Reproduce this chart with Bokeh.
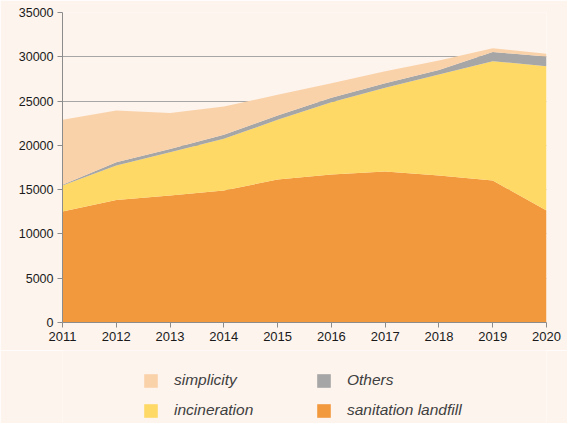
from bokeh.plotting import figure
from bokeh.layouts import column
from bokeh.models import ColumnDataSource, Legend, LegendItem, FixedTicker, Range1d
from bokeh.embed import file_html
from bokeh.resources import INLINE

years = [2011, 2012, 2013, 2014, 2015, 2016, 2017, 2018, 2019, 2020]
landfill = [12530, 13830, 14340, 14900, 16150, 16710, 17050, 16600, 16030, 12650]
incineration = [2940, 3900, 4890, 5840, 6730, 8160, 9440, 11400, 13470, 16290]
others = [90, 375, 370, 465, 490, 500, 530, 520, 1030, 1100]
simplicity = [7330, 5835, 4045, 3190, 2330, 1650, 1350, 1060, 440, 300]

series_keys = ["landfill", "incineration", "others", "simplicity"]
series_labels = ["sanitation landfill", "incineration", "Others", "simplicity"]
series_colors = ["#F2993E", "#FED966", "#A6A6A6", "#FAD2AA"]
y_ticks = [0, 5000, 10000, 15000, 20000, 25000, 30000, 35000]

BG = "#FDF4EE"

source = ColumnDataSource(dict(year=years, landfill=landfill, incineration=incineration,
                               others=others, simplicity=simplicity))

# ---- main chart ----
p = figure(width=567, height=350, output_backend="svg", toolbar_location=None,
           min_border_left=62, min_border_right=21, min_border_top=12, min_border_bottom=28,
           x_range=Range1d(2011, 2020), y_range=Range1d(0, 35000))
p.background_fill_color = BG
p.border_fill_color = BG
p.outline_line_color = None

p.varea_stack(series_keys, x="year", color=series_colors, source=source)

p.xgrid.grid_line_color = None
p.ygrid.grid_line_color = "#A6A6A6"
p.ygrid.grid_line_width = 1
p.ygrid.ticker = FixedTicker(ticks=y_ticks)

p.yaxis.ticker = FixedTicker(ticks=y_ticks)
p.xaxis.ticker = FixedTicker(ticks=years)
for ax in (p.xaxis, p.yaxis):
    ax.axis_line_color = "#8C8C8C"
    ax.major_tick_line_color = "#8C8C8C"
    ax.major_tick_in = 0
    ax.major_tick_out = 5
    ax.minor_tick_line_color = None
    ax.major_label_text_font = "Liberation Sans"
    ax.major_label_text_color = "#1A1A1A"
p.xaxis.major_label_text_font_size = "13px"
p.yaxis.major_label_text_font_size = "12.5px"
p.xaxis.major_label_standoff = 4
p.yaxis.major_label_standoff = 4
p.yaxis.formatter.use_scientific = False

# ---- legend strip (its stacked areas sit outside its own view) ----
lg = figure(width=567, height=73, output_backend="svg", toolbar_location=None,
            min_border=0, x_axis_type=None, y_axis_type=None,
            x_range=Range1d(2011, 2020), y_range=Range1d(-2, -1))
lg.background_fill_color = BG
lg.border_fill_color = BG
lg.outline_line_color = None
lg_renderers = lg.varea_stack(series_keys, x="year", color=series_colors, source=source)

order = [3, 2, 1, 0]
items = [LegendItem(label=series_labels[i], renderers=[lg_renderers[i]]) for i in order]
legend = Legend(items=items, ncols=2, location=(80, 4), orientation="horizontal")
legend.background_fill_alpha = 0
legend.border_line_color = None
legend.label_text_font = "Liberation Sans"
legend.label_text_font_style = "italic"
legend.label_text_font_size = "15.5px"
legend.label_text_color = "#404040"
legend.glyph_width = 17
legend.glyph_height = 17
legend.label_standoff = 15
legend.label_width = 129
legend.spacing = 12
legend.padding = 0
legend.margin = 0
lg.add_layout(legend, "center")

layout = column(p, lg, spacing=0)

html = file_html(layout, INLINE)
html = html.replace("<body>", '<body style="background-color:%s;">' % BG, 1)
open("out.html", "w").write(html)
